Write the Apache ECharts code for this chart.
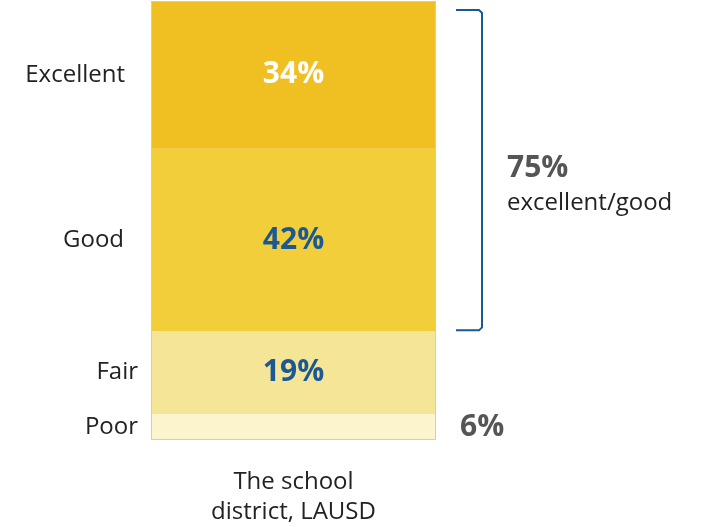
<!DOCTYPE html>
<html>
<head>
<meta charset="utf-8">
<script src="https://cdn.jsdelivr.net/npm/echarts@6/dist/echarts.min.js"></script>
<style>
  html, body { margin: 0; padding: 0; background: #fff; }
  #chart { width: 703px; height: 527px; }
</style>
</head>
<body>
<div id="chart"></div>
<script>
// Rating of the school district, stacked bottom to top
const categories = ['The school\ndistrict, LAUSD'];
const ratingNames = ['Poor', 'Fair', 'Good', 'Excellent'];
const poorValues = [6];
const fairValues = [19];
const goodValues = [42];
const excellentValues = [34];
const bracketText = ['75%', 'excellent/good'];

const FONT = '"Open Sans", "Noto Sans", sans-serif';
const BLUE = '#1b5894';
const GREY = '#555555';
const INK = '#222222';
const TEXT_SIZE = 24;
const PCT_SIZE = 30;

const segColors = {
  Poor: '#fbf4cd',
  Fair: '#f5e597',
  Good: '#f2cf3a',
  Excellent: '#f0bf22'
};

const seriesValues = {
  Poor: poorValues,
  Fair: fairValues,
  Good: goodValues,
  Excellent: excellentValues
};

const labelStyle = {
  Poor: { show: true, position: 'right', distance: 24, color: GREY },
  Fair: { show: true, position: 'inside', color: BLUE },
  Good: { show: true, position: 'inside', color: BLUE },
  Excellent: { show: true, position: 'inside', color: '#ffffff' }
};

const total = poorValues[0] + fairValues[0] + goodValues[0] + excellentValues[0];

const series = ratingNames.map(name => ({
  name: name,
  type: 'bar',
  stack: 'rating',
  barWidth: '100%',
  data: seriesValues[name],
  itemStyle: { color: segColors[name] },
  label: Object.assign({
    formatter: '{c}%', fontFamily: FONT, fontSize: PCT_SIZE, fontWeight: 'bold'
  }, labelStyle[name]),
  emphasis: { disabled: true },
  animation: false
}));

// thin outline round the whole stacked bar
series.push({
  type: 'bar',
  barGap: '-100%',
  barWidth: '100%',
  data: [total],
  z: 5,
  itemStyle: { color: 'rgba(0,0,0,0)', borderColor: '#cdcdcd', borderWidth: 1 },
  silent: true,
  animation: false
});

const chart = echarts.init(document.getElementById('chart'), null, { renderer: 'canvas' });

chart.setOption({
  backgroundColor: '#ffffff',
  textStyle: { fontFamily: FONT },
  grid: { left: 151, right: 267, top: 1, bottom: 86 },
  xAxis: {
    type: 'category',
    data: categories,
    axisLine: { show: false },
    axisTick: { show: false },
    axisLabel: {
      color: INK, fontSize: TEXT_SIZE, lineHeight: 30, margin: 27, fontFamily: FONT
    }
  },
  yAxis: {
    type: 'value',
    min: 0,
    max: total,
    show: false,
    splitLine: { show: false }
  },
  series: series
});

// Rating names at the left of each segment, bracket and summary on the right
function px(v) {
  return chart.convertToPixel({ gridIndex: 0 }, [0, v]);
}
let acc = 0;
const bounds = {};
ratingNames.forEach(name => {
  const lo = acc;
  acc += seriesValues[name][0];
  bounds[name] = [lo, acc];
});

const barLeft = 151;
const leftGap = { Excellent: 26, Good: 27, Fair: 13, Poor: 13 };
const graphics = ratingNames.map(name => {
  const mid = (bounds[name][0] + bounds[name][1]) / 2;
  const y = px(mid)[1];
  return {
    type: 'text',
    x: barLeft - leftGap[name],
    y: y,
    style: {
      text: name,
      fill: INK,
      font: TEXT_SIZE + 'px ' + FONT,
      textAlign: 'right',
      textVerticalAlign: 'middle'
    }
  };
});

const yTop = px(total)[1] + 9;
const yBot = px(bounds.Good[1] - goodValues[0])[1] - 1;
const bx = 482;
graphics.push({
  type: 'polyline',
  shape: {
    points: [[456, yTop], [bx - 3, yTop], [bx, yTop + 3], [bx, yBot - 3], [bx - 3, yBot], [456, yBot]]
  },
  style: { stroke: BLUE, lineWidth: 2, fill: null }
});
const yMid = (yTop + yBot) / 2;
graphics.push({
  type: 'text', x: 507, y: yMid - 2,
  style: { text: bracketText[0], fill: GREY, font: 'bold ' + PCT_SIZE + 'px ' + FONT, textVerticalAlign: 'middle' }
});
graphics.push({
  type: 'text', x: 507, y: yMid + 33,
  style: { text: bracketText[1], fill: INK, font: TEXT_SIZE + 'px ' + FONT, textVerticalAlign: 'middle' }
});

chart.setOption({ graphic: graphics });
</script>
</body>
</html>
